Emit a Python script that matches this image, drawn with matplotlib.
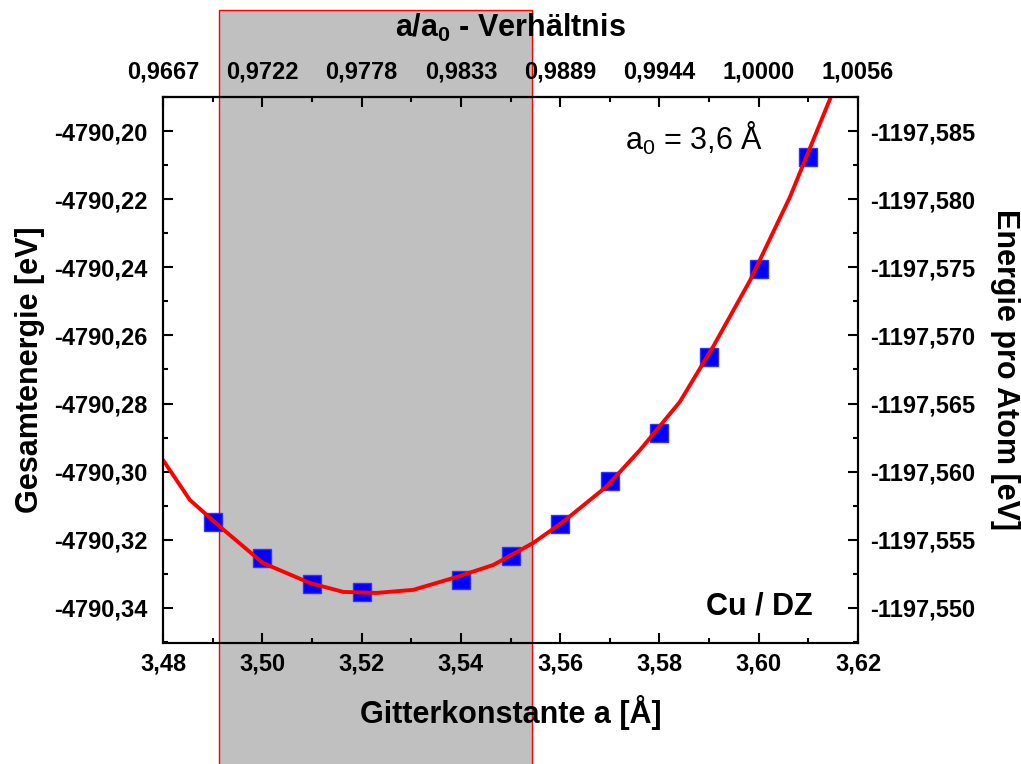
import matplotlib

matplotlib.use("Agg")
import matplotlib.pyplot as plt
import matplotlib.transforms as mtransforms
from matplotlib.patches import Rectangle
from matplotlib.ticker import FuncFormatter, MultipleLocator, FixedLocator

plt.rcParams["font.family"] = ["Liberation Sans", "DejaVu Sans"]

# measured total energies (Cu / DZ)
lattice = [3.49, 3.50, 3.51, 3.52, 3.54, 3.55, 3.56, 3.57, 3.58, 3.59, 3.60, 3.61]
energy = [-4790.3149, -4790.3254, -4790.3330, -4790.3352, -4790.3318, -4790.3247,
          -4790.3154, -4790.3026, -4790.2887, -4790.2662, -4790.2406, -4790.2077]

# fit curve
fit_a = [3.4800, 3.4854, 3.4915, 3.5001, 3.5096, 3.5163, 3.5230, 3.5304, 3.5392,
         3.5465, 3.5546, 3.5606, 3.5693, 3.5761, 3.5841, 3.5908, 3.5983, 3.6063,
         3.6144]
fit_e = [-4790.2966, -4790.3083, -4790.3162, -4790.3268, -4790.3327, -4790.3353,
         -4790.3356, -4790.3347, -4790.3309, -4790.3274, -4790.3209, -4790.3147,
         -4790.3044, -4790.2936, -4790.2795, -4790.2633, -4790.2437, -4790.2193,
         -4790.1904]

# highlighted lattice-constant window
span = (3.4913, 3.5543)

A0 = 3.6
# per-atom axis: E_atom = OFFSET - E_total / 4 (as labelled in the original)
OFFSET = -2395.135

XLIM = (3.48, 3.62)
YLIM = (-4790.3503, -4790.19)

TICK_FS = 17
LABEL_FS = 22


def comma(fmt):
    return FuncFormatter(lambda v, pos: format(v, fmt).replace(".", ","))


def style_ticks(axis_obj):
    axis_obj.tick_params(which="major", direction="in", length=7, width=1.5,
                         labelsize=TICK_FS)
    axis_obj.tick_params(which="minor", direction="in", length=3.5, width=1.5)


fig = plt.figure(figsize=(10.21, 7.64), dpi=100)
ax = fig.add_axes([0.1597, 0.1584, 0.6807, 0.7146])

# grey window running over the full figure height
trans = mtransforms.blended_transform_factory(ax.transData, fig.transFigure)
rect = Rectangle((span[0], -0.05), span[1] - span[0], 1.0369,
                 transform=trans, facecolor="#c0c0c0", edgecolor="red",
                 linewidth=1.0, clip_on=False, zorder=0)
ax.add_patch(rect)

ax.plot(lattice, energy, ls="none", marker="s", ms=13, color="#0000ff",
        mec="#3333ff", zorder=3)
ax.plot(fit_a, fit_e, color="red", lw=2.8, zorder=4, clip_on=True,
        solid_joinstyle="round")

ax.set_xlim(*XLIM)
ax.set_ylim(*YLIM)
ax.xaxis.set_major_locator(MultipleLocator(0.02))
ax.xaxis.set_minor_locator(MultipleLocator(0.01))
ax.yaxis.set_major_locator(MultipleLocator(0.02))
ax.yaxis.set_minor_locator(MultipleLocator(0.01))
ax.xaxis.set_major_formatter(comma(".2f"))
ax.yaxis.set_major_formatter(comma(".2f"))
style_ticks(ax)
ax.tick_params(axis="x", pad=7)
ax.tick_params(axis="y", pad=11)
for lab in ax.get_xticklabels() + ax.get_yticklabels():
    lab.set_fontweight("bold")
for s in ax.spines.values():
    s.set_linewidth(1.5)
ax.patch.set_alpha(0)

ax.set_xlabel("Gitterkonstante a [Å]", fontsize=LABEL_FS, fontweight="bold",
              va="center")
ax.xaxis.set_label_coords(0.5, -0.128)
ax.set_ylabel("Gesamtenergie [eV]", fontsize=LABEL_FS, fontweight="bold",
              va="center")
ax.yaxis.set_label_coords(-0.191, 0.5)

# right axis: energy per atom
ax2 = ax.twinx()
ax2.set_ylim(OFFSET - YLIM[0] / 4, OFFSET - YLIM[1] / 4)
ax2.yaxis.set_major_locator(MultipleLocator(0.005))
ax2.yaxis.set_minor_locator(MultipleLocator(0.0025))
ax2.yaxis.set_major_formatter(comma(".3f"))
style_ticks(ax2)
ax2.tick_params(axis="y", pad=9)
for lab in ax2.get_yticklabels():
    lab.set_fontweight("bold")
for s in ax2.spines.values():
    s.set_linewidth(1.5)
ax2.set_ylabel("Energie pro Atom [eV]", fontsize=LABEL_FS, fontweight="bold",
               rotation=270, va="center")
ax2.yaxis.set_label_coords(1.2115, 0.5)

# top axis: a / a0
top = ax.secondary_xaxis("top", functions=(lambda x: x / A0, lambda r: r * A0))
major_a = [3.48 + 0.02 * i for i in range(8)]
minor_a = [3.49 + 0.02 * i for i in range(7)]
top.xaxis.set_major_locator(FixedLocator([a / A0 for a in major_a]))
top.xaxis.set_minor_locator(FixedLocator([a / A0 for a in minor_a]))
top.xaxis.set_major_formatter(comma(".4f"))
style_ticks(top)
top.tick_params(axis="x", pad=10)
for lab in top.get_xticklabels():
    lab.set_fontweight("bold")
top.spines["top"].set_linewidth(1.5)
top.set_xlabel("a/a$_\\mathregular{0}$ - Verhältnis", fontsize=LABEL_FS,
               fontweight="bold", va="center")
top.xaxis.set_label_coords(0.5, 1.126, transform=ax.transAxes)

ax.text(0.764, 0.925, "a$_\\mathregular{0}$ = 3,6 Å", transform=ax.transAxes,
        fontsize=LABEL_FS, ha="center", va="center")
ax.text(0.935, 0.066, "Cu / DZ", transform=ax.transAxes, fontsize=LABEL_FS,
        fontweight="bold", ha="right", va="center")

fig.savefig("out.png", dpi=100)
